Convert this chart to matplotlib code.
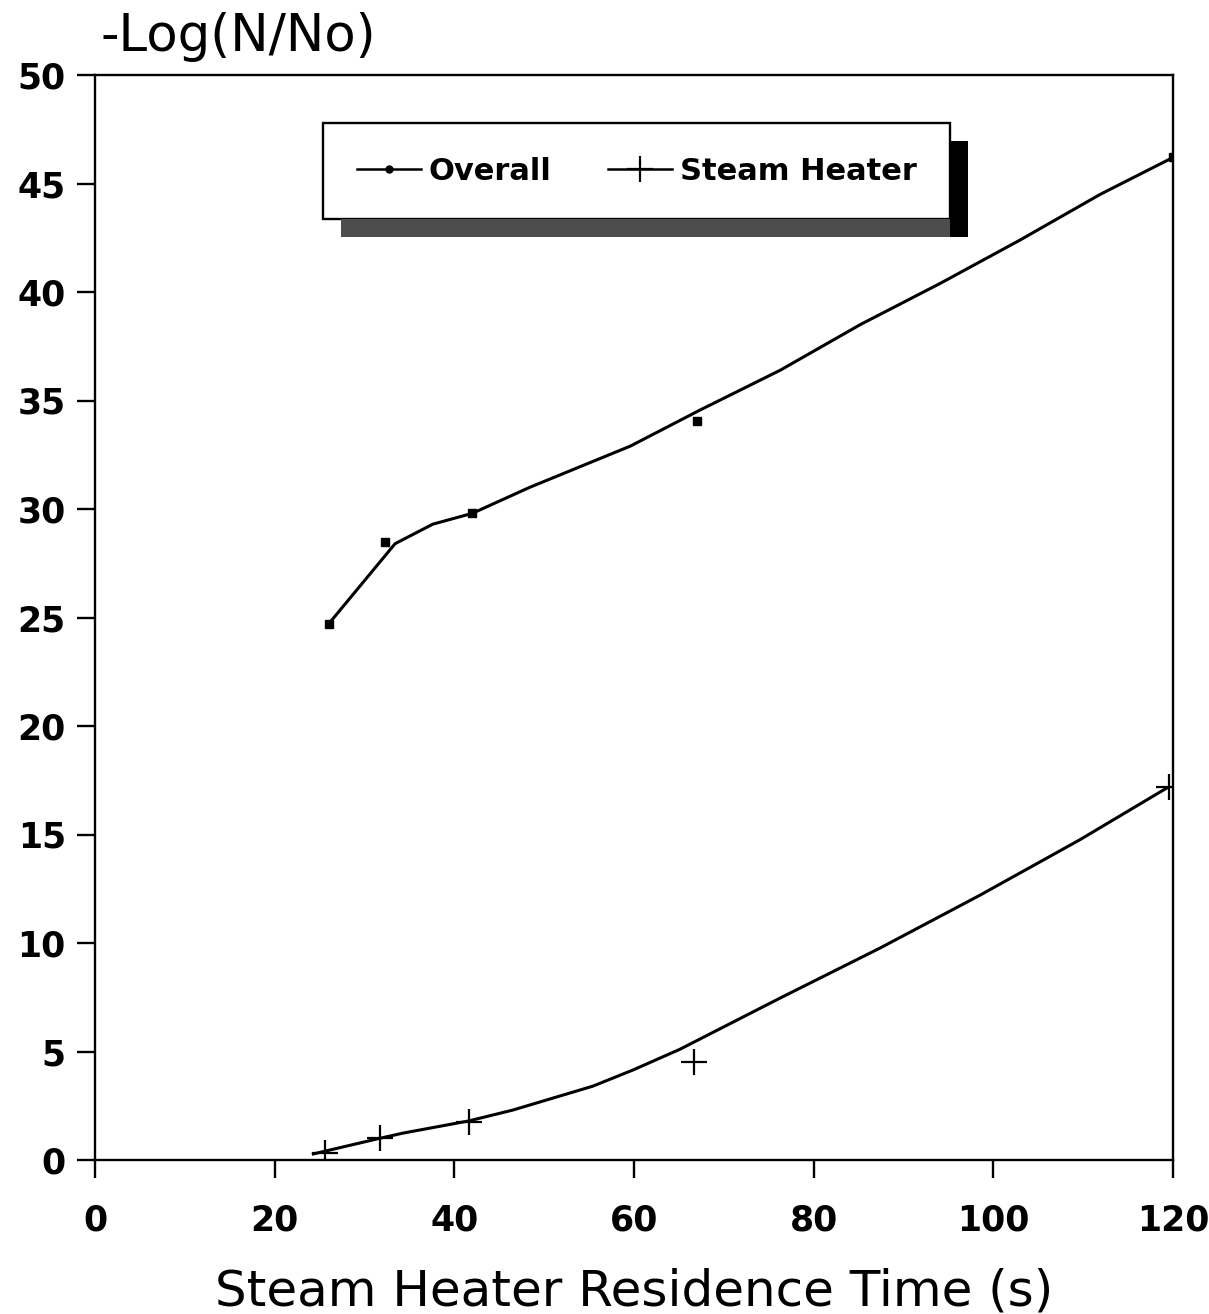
import matplotlib
matplotlib.use("Agg")
import matplotlib.pyplot as plt
from matplotlib.lines import Line2D
from matplotlib.patches import Rectangle

# ---- data ----
overall_x = [26.0, 32.3, 42.0, 67.0, 120.0]
overall_y = [24.7, 28.5, 29.8, 34.05, 46.2]
overall_fit_x = [26.0, 33.4, 37.6, 42.0, 48.4, 59.6, 67.35, 76.3, 85.2, 94.1, 103.0, 111.9, 120.0]
overall_fit_y = [24.7, 28.4, 29.3, 29.8, 31.0, 32.9, 34.56, 36.4, 38.5, 40.4, 42.4, 44.5, 46.2]

steam_x = [25.6, 31.7, 41.6, 66.7, 119.5]
steam_y = [0.3, 1.0, 1.74, 4.5, 17.2]
steam_fit_x = [24.3, 31.7, 34.3, 41.6, 46.5, 55.4, 59.9, 65.1, 76.3, 87.4, 98.5, 109.6, 119.3]
steam_fit_y = [0.28, 1.0, 1.24, 1.8, 2.3, 3.4, 4.15, 5.1, 7.47, 9.77, 12.2, 14.75, 17.14]

x_ticks = [0, 20, 40, 60, 80, 100, 120]
y_ticks = [0, 5, 10, 15, 20, 25, 30, 35, 40, 45, 50]
series_labels = ["Overall", "Steam Heater"]
x_label = "Steam Heater Residence Time (s)"
y_label = "-Log(N/No)"

# ---- figure ----
fig = plt.figure(figsize=(12.09, 13.14), dpi=100)
ax = fig.add_axes([95 / 1209, 1 - 1160 / 1314, (1173 - 95) / 1209, (1160 - 75) / 1314])

lw = 2.2
ax.plot(overall_fit_x, overall_fit_y, color="black", lw=lw, zorder=3)
ax.plot(overall_x, overall_y, linestyle="none", marker="s", ms=6, color="black", zorder=4)
ax.plot(steam_fit_x, steam_fit_y, color="black", lw=lw, zorder=3)
ax.plot(steam_x, steam_y, linestyle="none", marker="+", ms=19, mew=1.6, color="black", zorder=4)

ax.set_xlim(0, 120)
ax.set_ylim(0, 50)
ax.set_xticks(x_ticks)
ax.set_yticks(y_ticks)
ax.set_xticklabels([str(t) for t in x_ticks], fontsize=25, fontweight="bold", family="DejaVu Sans")
ax.set_yticklabels([str(t) for t in y_ticks], fontsize=25, fontweight="bold", family="DejaVu Sans")

for s in ax.spines.values():
    s.set_linewidth(1.7)
ax.tick_params(axis="both", direction="out", length=13, width=1.7,
               top=False, right=False)
ax.tick_params(axis="y", pad=8)
ax.tick_params(axis="x", pad=18)

ax.set_xlabel(x_label, fontsize=36, family="DejaVu Sans", labelpad=22)
ax.text(0.005, 1.012, y_label, transform=ax.transAxes, fontsize=37,
        family="DejaVu Sans", ha="left", va="bottom")

# legend
h1 = Line2D([], [], color="black", lw=1.8, marker="o", ms=5)
h2 = Line2D([], [], color="black", lw=1.8, marker="+", ms=19, mew=1.6)
leg = ax.legend([h1, h2], series_labels, loc="upper left",
                bbox_to_anchor=((323 - 95) / 1078, (1160 - 123) / 1085),
                borderaxespad=0, ncol=2,
                prop={"weight": "bold", "size": 22, "family": "DejaVu Sans"},
                handlelength=2.1, handletextpad=0.25, columnspacing=1.85,
                borderpad=1.1, fancybox=False, framealpha=1, edgecolor="black")
leg.get_frame().set_linewidth(1.7)
leg.set_zorder(6)

fig.canvas.draw()
bb = leg.get_window_extent()
W, H = fig.bbox.width, fig.bbox.height
ox, oy = 18, 18
# right shadow strip (black)
fig.patches.append(Rectangle(((bb.x1) / W, (bb.y0 - oy) / H), ox / W, (bb.height) / H,
                             transform=fig.transFigure, facecolor="black",
                             edgecolor="none", zorder=5))
# bottom shadow strip (dark grey)
fig.patches.append(Rectangle(((bb.x0 + ox) / W, (bb.y0 - oy) / H), (bb.width - ox) / W, oy / H,
                             transform=fig.transFigure, facecolor="#4d4d4d",
                             edgecolor="none", zorder=5))

fig.savefig("out.png", dpi=100, facecolor="white")
